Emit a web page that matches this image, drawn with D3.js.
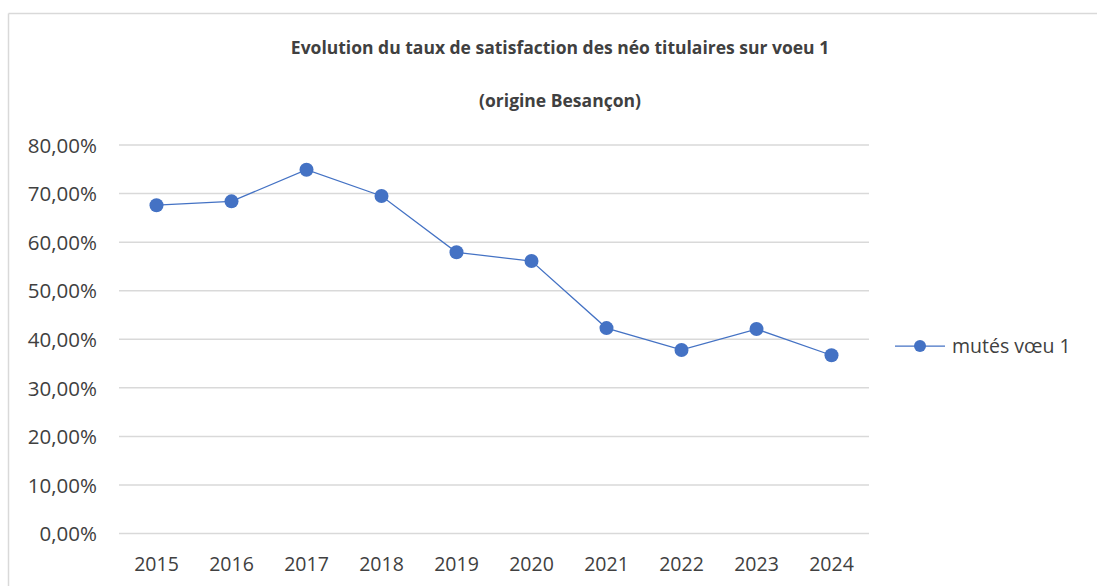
<!DOCTYPE html>
<html lang="fr">
<head>
    <meta charset="UTF-8">
    <script src="https://d3js.org/d3.v7.min.js"></script>
    <style>
        body { margin: 0; background: #fff; }
        .axis text { font-family: "Open Sans", "Noto Sans", sans-serif; font-size: 19.5px; fill: #404040; }
        .title { font-family: "Open Sans", "Noto Sans", sans-serif; font-weight: bold; font-size: 17.5px; fill: #404040; }
    </style>
</head>
<body>
<svg width="1097" height="586" id="chart"></svg>
<script>
    // Data
    const years = ["2015", "2016", "2017", "2018", "2019", "2020", "2021", "2022", "2023", "2024"];
    const mutesVoeu1 = [0.676, 0.684, 0.749, 0.695, 0.579, 0.561, 0.423, 0.378, 0.421, 0.367];
    const yTicks = [0, 0.1, 0.2, 0.3, 0.4, 0.5, 0.6, 0.7, 0.8];
    const seriesName = "mutés vœu 1";
    const titleLines = ["Evolution du taux de satisfaction des néo titulaires sur voeu 1", "(origine Besançon)"];

    const svg = d3.select("#chart");
    const plot = { left: 119, right: 869, top: 145, bottom: 533.5 };
    const blue = "#4472C4";

    // chart frame (only top and left edges show in the picture)
    svg.append("line").attr("x1", 8.5).attr("x2", 1097).attr("y1", 13.5).attr("y2", 13.5)
        .attr("stroke", "#d9d9d9").attr("stroke-width", 1.5);
    svg.append("line").attr("x1", 8.5).attr("x2", 8.5).attr("y1", 13.5).attr("y2", 586)
        .attr("stroke", "#d9d9d9").attr("stroke-width", 1.5);

    // title
    svg.selectAll(".title").data(titleLines).enter().append("text")
        .attr("class", "title")
        .attr("x", 560)
        .attr("y", (d, i) => 54 + i * 53)
        .attr("text-anchor", "middle")
        .text(d => d);

    const x = d3.scaleBand().domain(years).range([plot.left, plot.right]);
    const y = d3.scaleLinear().domain([0, 0.8]).range([plot.bottom, plot.top]);
    const fmt = d => d3.format(".2f")(d * 100).replace(".", ",") + "%";

    // gridlines
    svg.append("g").selectAll("line").data(yTicks).enter().append("line")
        .attr("x1", plot.left).attr("x2", plot.right)
        .attr("y1", d => y(d)).attr("y2", d => y(d))
        .attr("stroke", "#d9d9d9").attr("stroke-width", 1.5);

    // y axis labels
    const yAxis = svg.append("g").attr("class", "axis")
        .attr("transform", "translate(" + (plot.left - 22) + ",0)")
        .call(d3.axisLeft(y).tickValues(yTicks).tickFormat(fmt).tickSize(0).tickPadding(0));
    yAxis.select(".domain").remove();
    yAxis.selectAll("text").attr("dy", "0.35em").style("font-size", "20.5px");

    // x axis labels
    const xAxis = svg.append("g").attr("class", "axis")
        .attr("transform", "translate(0," + (plot.bottom + 19) + ")")
        .call(d3.axisBottom(x).tickSize(0).tickPadding(0));
    xAxis.select(".domain").remove();
    xAxis.selectAll("text").attr("dy", "0.95em");

    // line + markers
    const line = d3.line()
        .x((d, i) => x(years[i]) + x.bandwidth() / 2)
        .y(d => y(d));
    svg.append("path").datum(mutesVoeu1)
        .attr("d", line).attr("fill", "none")
        .attr("stroke", blue).attr("stroke-width", 1.25);
    svg.selectAll(".pt").data(mutesVoeu1).enter().append("circle")
        .attr("class", "pt")
        .attr("cx", (d, i) => x(years[i]) + x.bandwidth() / 2)
        .attr("cy", d => y(d))
        .attr("r", 7)
        .attr("fill", blue);

    // legend
    const legend = svg.append("g").attr("class", "axis").attr("transform", "translate(895,346)");
    legend.append("line").attr("x1", 0).attr("x2", 50).attr("y1", 0).attr("y2", 0)
        .attr("stroke", blue).attr("stroke-width", 1.25);
    legend.append("circle").attr("cx", 25).attr("cy", 0).attr("r", 6).attr("fill", blue);
    legend.append("text").attr("x", 57).attr("y", 0).attr("dy", "0.35em").text(seriesName);
</script>
</body>
</html>
